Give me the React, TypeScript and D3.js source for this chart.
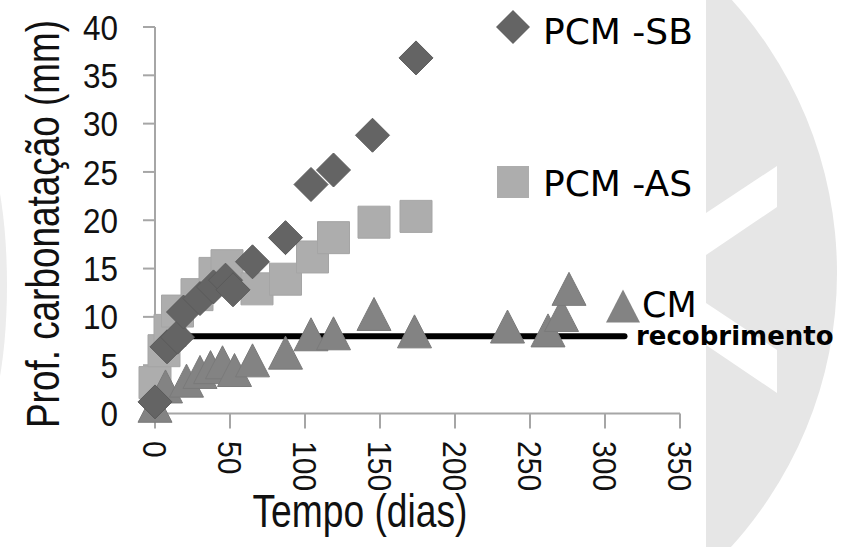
import React from 'react';
import * as d3 from 'd3';

// tick values
const xTicks = [0, 50, 100, 150, 200, 250, 300, 350];
const yTicks = [0, 5, 10, 15, 20, 25, 30, 35, 40];

// PCM -SB (diamonds)
const sbDays = [0, 8, 15, 19, 30, 39, 47, 52, 65, 87, 104, 119, 145, 174];
const sbDepth = [1.2, 6.9, 7.9, 10.5, 11.9, 13.1, 13.8, 12.8, 15.7, 18.2, 23.7, 25.2, 28.8, 36.8];

// PCM -AS (squares)
const asDays = [0, 6, 10, 15, 28, 40, 48, 68, 87, 105, 119, 146, 174];
const asDepth = [3.2, 6.5, 8.6, 10.6, 12.3, 14.5, 15.3, 12.9, 13.9, 16.2, 18.2, 19.8, 20.4];

// CM (triangles)
const cmDays = [0, 7, 21, 30, 37, 45, 53, 65, 87, 104, 119, 146, 173, 235, 262, 271, 276];
const cmDepth = [0.8, 2.8, 3.4, 4.3, 4.8, 5.3, 4.5, 5.5, 6.3, 8.2, 8.3, 10.3, 8.5, 9.0, 8.6, 10.2, 12.9];

// recobrimento (cover depth)
const coverDays = [20, 313];
const coverDepth = [8, 8];

const W = 843;
const H = 547;

const DIAMOND = 'M0,-17L17,0L0,17L-17,0Z';
const SQUARE = 'M-16,-16h32v32h-32Z';
const TRIANGLE = 'M0,-16.5L17,16.5L-17,16.5Z';

const narrow = '"Liberation Sans Narrow", "Liberation Sans", Arial, sans-serif';
const verdana = '"DejaVu Sans", Verdana, sans-serif';

export default function App() {
  const x = d3.scaleLinear().domain([0, 350]).range([155, 680]);
  const y = d3.scaleLinear().domain([0, 40]).range([413.5, 27]);

  const line = d3.line<number>()
    .x((d) => x(d))
    .y((d, i) => y(coverDepth[i]));

  const axisColor = '#a6a6a6';

  return (
    <svg width={W} height={H} style={{ position: 'absolute', left: 0, top: 0, background: '#fff' }}>
      {/* watermark */}
      <defs>
        <clipPath id="wm">
          <circle cx={430} cy={273} r={407} />
        </clipPath>
      </defs>
      <g clipPath="url(#wm)">
        <rect x={706} y={0} width={W - 706} height={H} fill="#e6e6e6" />
        <polygon points="706,213 777,166 777,207 706,255" fill="#fff" />
        <polygon points="706,303 777,350 777,393 706,345" fill="#fff" />
      </g>
      <ellipse cx={-26} cy={285} rx={33} ry={148} fill="#ececec" />

      {/* axes */}
      <line x1={155} x2={155} y1={y(40)} y2={y(0)} stroke={axisColor} strokeWidth={2} />
      <line x1={143} x2={x(350)} y1={y(0)} y2={y(0)} stroke={axisColor} strokeWidth={2} />
      {yTicks.map((t) => (
        <g key={'y' + t}>
          <line x1={143} x2={155} y1={y(t)} y2={y(t)} stroke={axisColor} strokeWidth={2} />
          <text x={118} y={y(t)} dy="0.36em" textAnchor="end" fontFamily={narrow} fontSize={35}
            textLength={String(t).length * 17.5} lengthAdjust="spacingAndGlyphs" fill="#111">{t}</text>
        </g>
      ))}
      {xTicks.map((t) => (
        <g key={'x' + t}>
          <line x1={x(t)} x2={x(t)} y1={y(0)} y2={y(0) + 15} stroke={axisColor} strokeWidth={2} />
          <text transform={`translate(${x(t)},441) rotate(90)`} dy="0.36em" textAnchor="start"
            fontFamily={narrow} fontSize={33} textLength={String(t).length * 16.7}
            lengthAdjust="spacingAndGlyphs" fill="#111">{t}</text>
        </g>
      ))}

      {/* axis titles */}
      <text transform="translate(59,224) rotate(-90)" textAnchor="middle" fontFamily={narrow}
        fontSize={47} textLength={408} lengthAdjust="spacingAndGlyphs" fill="#111">Prof. carbonatação (mm)</text>
      <text x={360} y={527} textAnchor="middle" fontFamily={narrow} fontSize={46}
        textLength={215} lengthAdjust="spacingAndGlyphs" fill="#111">Tempo (dias)</text>

      {/* cover line */}
      <path d={line(coverDays) || ''} stroke="#000" strokeWidth={6} strokeLinecap="round" fill="none" />

      {/* series */}
      {asDays.map((d, i) => (
        <path key={'as' + i} d={SQUARE} transform={`translate(${x(d)},${y(asDepth[i])})`}
          fill="#adadad" stroke="#a5a5a5" strokeWidth={1} />
      ))}
      {cmDays.map((d, i) => (
        <path key={'cm' + i} d={TRIANGLE} transform={`translate(${x(d)},${y(cmDepth[i])})`}
          fill="#838383" stroke="#7a7a7a" strokeWidth={1} />
      ))}
      {sbDays.map((d, i) => (
        <path key={'sb' + i} d={DIAMOND} transform={`translate(${x(d)},${y(sbDepth[i])})`}
          fill="#646464" stroke="#5a5a5a" strokeWidth={1} />
      ))}

      {/* legend */}
      <path d={DIAMOND} transform="translate(513,27)" fill="#646464" />
      <text x={543} y={44} fontFamily={verdana} fontSize={36} fill="#000">PCM -SB</text>
      <path d={SQUARE} transform="translate(513,182)" fill="#adadad" />
      <text x={543} y={196} fontFamily={verdana} fontSize={36} fill="#000">PCM -AS</text>
      <path d={TRIANGLE} transform="translate(623,306)" fill="#838383" />
      <text x={642} y={317} fontFamily={verdana} fontSize={35} fill="#000">CM</text>
      <text x={636} y={345} fontFamily={verdana} fontSize={26} fontWeight="bold" fill="#000">recobrimento</text>
    </svg>
  );
}
